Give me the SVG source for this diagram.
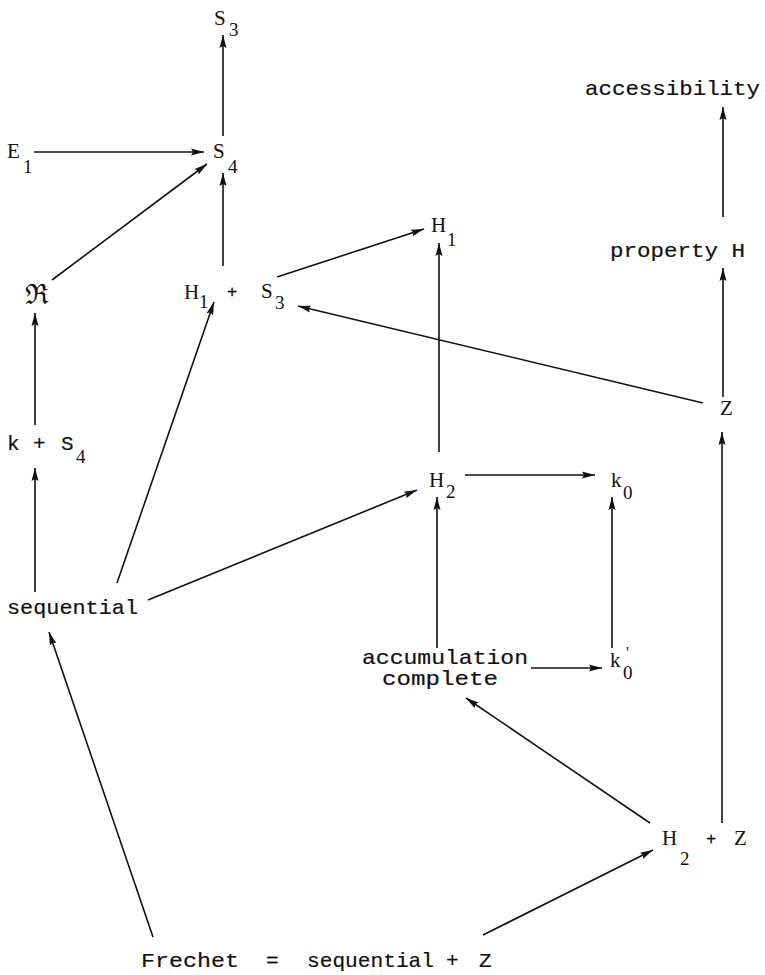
<svg xmlns="http://www.w3.org/2000/svg" width="765" height="975" viewBox="0 0 765 975">
<style>
.m{font-family:"Liberation Mono","DejaVu Sans Mono",monospace;font-size:21px;fill:#111;stroke:#111;stroke-width:0.2}
.s{font-family:"Liberation Serif","DejaVu Serif",serif;font-size:21px;fill:#111}
.b{font-family:"Liberation Serif","DejaVu Serif",serif;font-size:19px;fill:#111}
.p{font-family:"Liberation Mono",monospace;font-size:17px;fill:#111;stroke:#111;stroke-width:0.3}
.e line{stroke:#111;stroke-width:1.6;marker-end:url(#a)}
</style>
<defs>
<marker id="a" markerUnits="userSpaceOnUse" markerWidth="14" markerHeight="8" refX="13" refY="4" orient="auto">
<path d="M0,0.5 L13,4 L0,7.5 L2,4 z" fill="#111"/>
</marker>
</defs>
<rect width="765" height="975" fill="#fff"/>
<g class="e" id="connectors">
<line x1="223" y1="136" x2="223" y2="35"/>
<line x1="34" y1="152" x2="204" y2="152"/>
<line x1="52" y1="280" x2="207" y2="164"/>
<line x1="223" y1="266" x2="223" y2="173"/>
<line x1="277" y1="277" x2="424" y2="229"/>
<line x1="35" y1="425" x2="35" y2="313"/>
<line x1="35" y1="592" x2="35" y2="468"/>
<line x1="117" y1="583" x2="214" y2="302"/>
<line x1="148" y1="600" x2="417" y2="490"/>
<line x1="439" y1="452" x2="439" y2="243"/>
<line x1="703" y1="403" x2="298" y2="306"/>
<line x1="723" y1="397" x2="723" y2="268"/>
<line x1="723" y1="217" x2="723" y2="107"/>
<line x1="465" y1="475" x2="595" y2="475"/>
<line x1="437" y1="648" x2="437" y2="497"/>
<line x1="612" y1="648" x2="612" y2="497"/>
<line x1="531" y1="668" x2="602" y2="668"/>
<line x1="650" y1="823" x2="466" y2="698"/>
<line x1="722" y1="823" x2="722" y2="432"/>
<line x1="483" y1="935" x2="653" y2="850"/>
<line x1="153" y1="937" x2="49" y2="632"/>
</g>
<g id="n-S3"><text class="s" x="214" y="25">S</text><text class="b" x="229" y="36">3</text></g>
<g id="n-S4"><text class="s" x="213" y="158">S</text><text class="b" x="228" y="173">4</text></g>
<g id="n-E1"><text class="s" x="7" y="158">E</text><text class="b" x="23" y="173">1</text></g>
<g id="n-R"><text x="25" y="304" style="font-family:'DejaVu Serif',serif;font-size:28px;fill:#111">ℜ</text></g>
<g id="n-H1S3"><text class="s" x="184" y="299">H</text><text class="b" x="199" y="308">1</text><text class="p" x="227" y="297">+</text><text class="s" x="261" y="298">S</text><text class="b" x="275" y="309">3</text></g>
<g id="n-H1"><text class="s" x="431" y="232">H</text><text class="b" x="447" y="246">1</text></g>
<g id="n-access"><text class="m" x="585" y="95" textLength="175" lengthAdjust="spacingAndGlyphs">accessibility</text></g>
<g id="n-propH"><text class="m" x="610" y="257" textLength="135" lengthAdjust="spacingAndGlyphs">property H</text></g>
<g id="n-Z"><text class="s" x="720" y="415">Z</text></g>
<g id="n-kS4"><text class="m" x="7" y="450">k</text><text class="m" x="33" y="450">+</text><text class="m" x="61" y="450">S</text><text class="b" x="76" y="463">4</text></g>
<g id="n-H2"><text class="s" x="429" y="487">H</text><text class="b" x="446" y="498">2</text></g>
<g id="n-k0"><text class="s" x="611" y="487">k</text><text class="b" x="623" y="499">0</text></g>
<g id="n-seq"><text class="m" x="7" y="614" textLength="131" lengthAdjust="spacingAndGlyphs">sequential</text></g>
<g id="n-acc"><text class="m" x="362" y="664" textLength="166" lengthAdjust="spacingAndGlyphs">accumulation</text><text class="m" x="382" y="685" textLength="116" lengthAdjust="spacingAndGlyphs">complete</text></g>
<g id="n-k0p"><text class="s" x="610" y="667">k</text><text x="626" y="658" style="font-family:'Liberation Serif',serif;font-size:16px;fill:#111">'</text><text class="b" x="623" y="679">0</text></g>
<g id="n-H2Z"><text class="s" x="662" y="845">H</text><text class="b" x="680" y="865">2</text><text class="p" x="706" y="844">+</text><text class="s" x="734" y="845">Z</text></g>
<g id="n-frechet"><text class="m" x="141" y="967" textLength="98" lengthAdjust="spacingAndGlyphs">Frechet</text><text class="m" x="266" y="967">=</text><text class="m" x="307" y="967" textLength="127" lengthAdjust="spacingAndGlyphs">sequential</text><text class="m" x="446" y="967">+</text><text class="m" x="479" y="967">Z</text></g>
</svg>
